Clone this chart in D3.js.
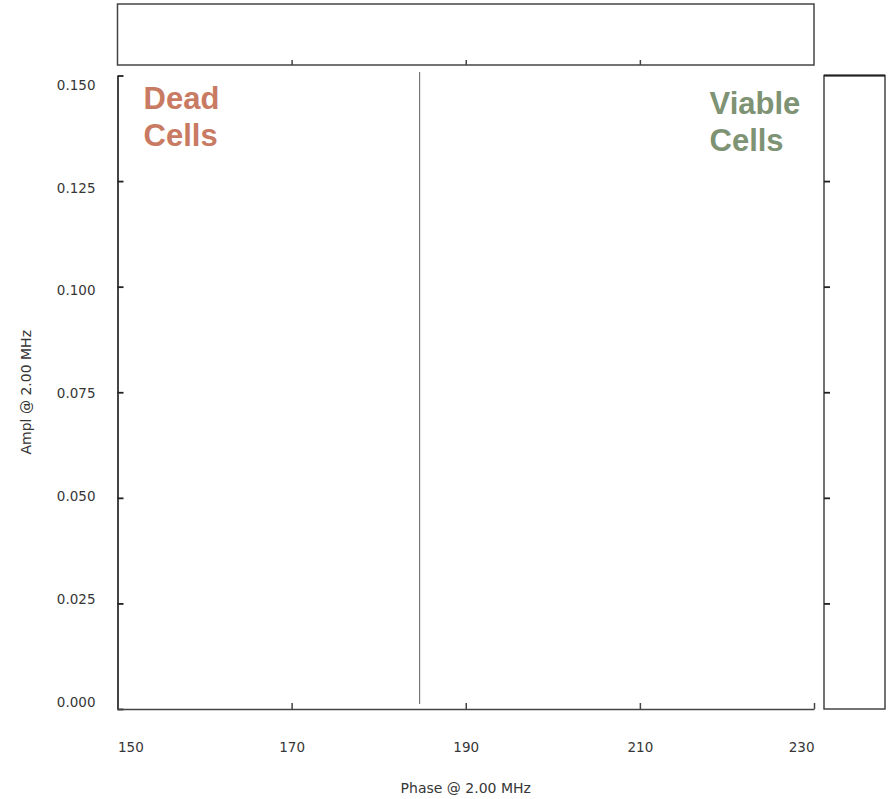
<!DOCTYPE html>
<html>
<head>
<meta charset="utf-8">
<script src="https://cdn.jsdelivr.net/npm/d3@7"></script>
<style>
  html, body { margin: 0; padding: 0; background: #fff; }
  svg { display: block; }
  .tick text { font-family: "DejaVu Sans", Verdana, sans-serif; font-size: 13.5px; fill: #363636; }
  .title { font-family: "DejaVu Sans", Verdana, sans-serif; font-size: 14px; fill: #363636; }
  .region { font-family: "Liberation Sans", Arial, sans-serif; font-size: 31px; font-weight: bold; }
</style>
</head>
<body>
<svg id="chart" width="892" height="799"></svg>
<script>
// Axis domains and tick values
const phaseDomain = [150, 230];
const amplDomain = [0, 0.15];
const phaseTicks = [150, 170, 190, 210, 230];
const amplTicks = [0, 0.025, 0.05, 0.075, 0.1, 0.125, 0.15];
const phaseTickLabels = ["150", "170", "190", "210", "230"];
const amplTickLabels = ["0.000", "0.025", "0.050", "0.075", "0.100", "0.125", "0.150"];

// Gate separating the two populations (phase threshold and its amplitude span)
const gatePhase = [184.7];
const gateAmplSpan = [0.0012, 0.1508];

// Region labels: text lines and their colours
const regionNames = ["Dead", "Viable"];
const regionLines = [["Dead", "Cells"], ["Viable", "Cells"]];
const regionColors = ["#c97a63", "#7e9274"];

const axisTitleX = "Phase @ 2.00 MHz";
const axisTitleY = "Ampl @ 2.00 MHz";

const svg = d3.select("#chart");
const ink = "#444";

// Main plot geometry
const plotL = 117.5, plotR = 814, plotT = 75.5, plotB = 709;

const x = d3.scaleLinear().domain(phaseDomain).range([plotL, plotR]);
const y = d3.scaleLinear().domain(amplDomain).range([plotB, plotT]);
// Tick labels on the amplitude axis sit within a slightly inset band
const yLab = d3.scaleLinear().domain(amplDomain).range([702, 85]);

// ---- top marginal panel (phase histogram frame) ----
const topPanel = { y0: 4, y1: 65 };
svg.append("rect")
  .attr("x", plotL).attr("y", topPanel.y0)
  .attr("width", plotR - plotL).attr("height", topPanel.y1 - topPanel.y0)
  .attr("fill", "none").attr("stroke", ink).attr("stroke-width", 1.5);
svg.append("g")
  .attr("transform", `translate(0,${topPanel.y1})`)
  .call(d3.axisBottom(x).tickValues(phaseTicks.slice(1, -1)).tickSize(-5).tickSizeOuter(0).tickFormat(""))
  .call(g => g.select(".domain").remove())
  .call(g => g.selectAll("line").attr("stroke", ink).attr("stroke-width", 1.5));

// ---- right marginal panel (amplitude histogram frame) ----
const rightPanel = { x0: 824, x1: 885 };
svg.append("rect")
  .attr("x", rightPanel.x0).attr("y", plotT)
  .attr("width", rightPanel.x1 - rightPanel.x0).attr("height", plotB - plotT)
  .attr("fill", "none").attr("stroke", ink).attr("stroke-width", 1.5);
svg.append("line")
  .attr("x1", rightPanel.x0).attr("x2", rightPanel.x1)
  .attr("y1", plotT).attr("y2", plotT)
  .attr("stroke", "#222").attr("stroke-width", 2.2);
svg.append("g")
  .attr("transform", `translate(${rightPanel.x0},0)`)
  .call(d3.axisLeft(y).tickValues(amplTicks.slice(1, -1)).tickSize(-6).tickSizeOuter(0).tickFormat(""))
  .call(g => g.select(".domain").remove())
  .call(g => g.selectAll("line").attr("stroke", "#222").attr("stroke-width", 1.8));

// ---- main plot axes ----
// left axis: line with inward ticks
svg.append("g")
  .attr("transform", `translate(${plotL},0)`)
  .call(d3.axisLeft(y).tickValues(amplTicks).tickSize(-6).tickSizeOuter(0).tickFormat(""))
  .call(g => g.select(".domain").attr("stroke", ink).attr("stroke-width", 2))
  .call(g => g.selectAll("line").attr("stroke", "#222").attr("stroke-width", 1.8));
// left axis labels
svg.append("g")
  .attr("transform", `translate(${plotL},0)`)
  .call(d3.axisLeft(yLab).tickValues(amplTicks).tickSize(0).tickPadding(22)
    .tickFormat((d, i) => amplTickLabels[i]))
  .call(g => g.select(".domain").remove());

// bottom axis: line with inward ticks and labels kept within the axis extent
const xAxis = svg.append("g")
  .attr("transform", `translate(0,${plotB})`)
  .call(d3.axisBottom(x).tickValues(phaseTicks).tickSize(-6).tickSizeOuter(0).tickPadding(33)
    .tickFormat((d, i) => phaseTickLabels[i]))
  .call(g => g.select(".domain").attr("stroke", ink).attr("stroke-width", 1.6))
  .call(g => g.selectAll("line").attr("stroke", ink).attr("stroke-width", 1.5));
xAxis.selectAll(".tick text")
  .attr("text-anchor", (d, i, n) => i === 0 ? "start" : (i === n.length - 1 ? "end" : "middle"));

// ---- gate line ----
svg.selectAll(".gate").data(gatePhase).join("line")
  .attr("class", "gate")
  .attr("x1", d => x(d)).attr("x2", d => x(d))
  .attr("y1", y(gateAmplSpan[0])).attr("y2", y(gateAmplSpan[1]))
  .attr("stroke", "#6e6e6e").attr("stroke-width", 1.1);

// ---- region labels ----
const regionAnchors = [
  { x: 153.0, y: 0.1421, anchor: "start" },
  { x: 218.0, y: 0.1409, anchor: "start" }
];
regionLines.forEach((lines, r) => {
  const t = svg.append("text")
    .attr("class", "region")
    .attr("fill", regionColors[r])
    .attr("x", x(regionAnchors[r].x))
    .attr("y", y(regionAnchors[r].y))
    .attr("text-anchor", regionAnchors[r].anchor)
    .attr("data-name", regionNames[r]);
  lines.forEach((line, i) => {
    t.append("tspan")
      .attr("x", x(regionAnchors[r].x))
      .attr("dy", i === 0 ? 0 : 37.5)
      .text(line);
  });
});

// ---- axis titles ----
svg.append("text")
  .attr("class", "title")
  .attr("x", (plotL + plotR) / 2).attr("y", 793)
  .attr("text-anchor", "middle")
  .text(axisTitleX);
svg.append("text")
  .attr("class", "title")
  .attr("transform", `translate(31,${(plotT + plotB) / 2}) rotate(-90)`)
  .attr("text-anchor", "middle")
  .text(axisTitleY);
</script>
</body>
</html>
